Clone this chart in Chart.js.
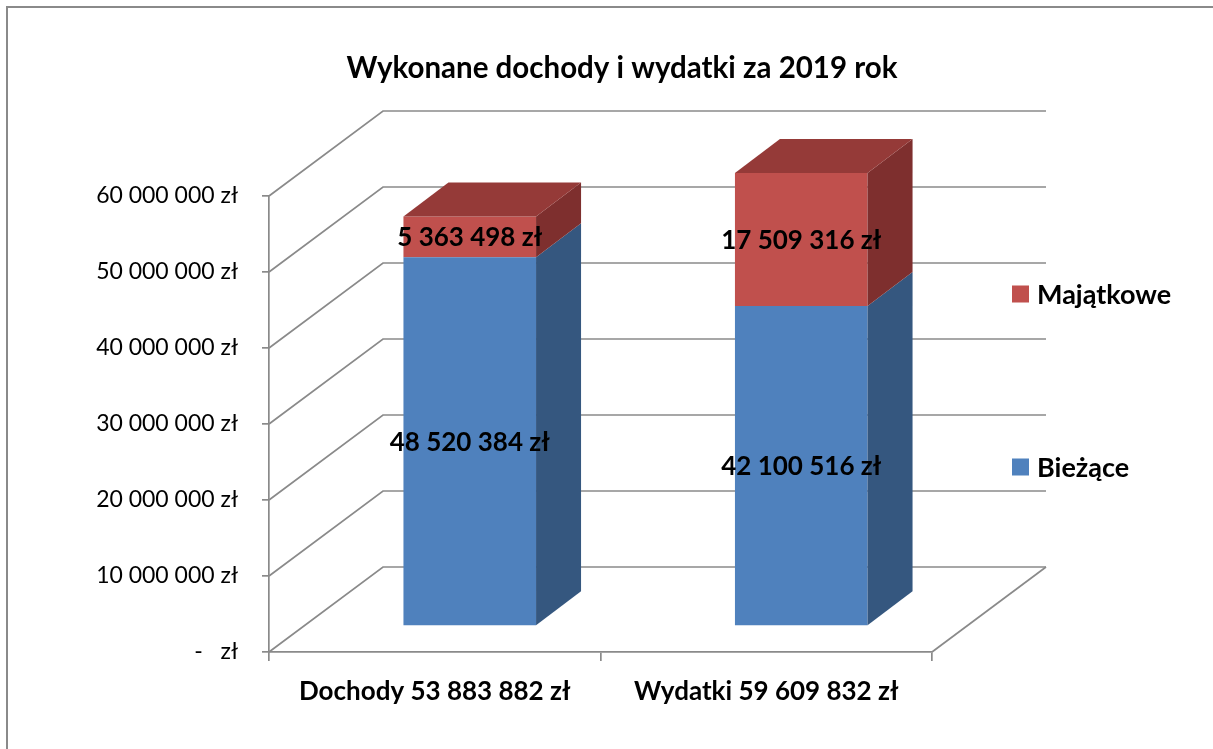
<!DOCTYPE html>
<html>
<head>
<meta charset="utf-8">
<script src="https://cdn.jsdelivr.net/npm/chart.js@4.4.0/dist/chart.umd.min.js"></script>
<style>
  html, body { margin: 0; padding: 0; background: #fff; }
</style>
</head>
<body>
<canvas id="chart" width="1213" height="749"></canvas>
<script>
const categories = ['Dochody 53 883 882 zł', 'Wydatki 59 609 832 zł'];
const biezace = [48520384, 42100516];
const majatkowe = [5363498, 17509316];
const yTicks = [0, 10000000, 20000000, 30000000, 40000000, 50000000, 60000000];

const FONT = 'Lato, "Open Sans", sans-serif';
const GRID = '#8a8a8a';
// oblique 3D offsets (front plane -> back wall, front plane -> bar front, bar depth)
const WALL = { dx: 114, dy: -85 };
const BAR_OFF = { dx: 35, dy: -26 };
const DEPTH = { dx: 45, dy: -34 };

function zl(v) {
    if (v === 0) return '-\u00a0\u00a0\u00a0zł';
    return String(v).replace(/\B(?=(\d{3})+(?!\d))/g, ' ') + ' zł';
}

const threeD = {
    id: 'threeD',
    beforeDraw(chart) {
        const ctx = chart.ctx;
        ctx.save();
        ctx.fillStyle = '#fff';
        ctx.fillRect(0, 0, chart.width, chart.height);
        // outer frame (cut by the picture at right and bottom)
        ctx.strokeStyle = '#8a8a8a';
        ctx.lineWidth = 2;
        ctx.beginPath();
        ctx.moveTo(7, chart.height + 5);
        ctx.lineTo(7, 7);
        ctx.lineTo(chart.width + 5, 7);
        ctx.stroke();
        // title
        ctx.fillStyle = '#000';
        ctx.font = 'bold 29.5px ' + FONT;
        ctx.textAlign = 'center';
        ctx.textBaseline = 'middle';
        ctx.fillText('Wykonane dochody i wydatki za 2019 rok', 622, 68);
        // legend, top entry is the last series like in Excel
        const ds = chart.data.datasets;
        const legendY = [294, 467];
        ctx.font = 'bold 27px ' + FONT;
        ctx.textAlign = 'left';
        [ds[1], ds[0]].forEach((d, i) => {
            ctx.fillStyle = d.backgroundColor;
            ctx.fillRect(1012, legendY[i] - 8.5, 17, 17);
            ctx.fillStyle = '#000';
            ctx.fillText(d.label, 1037, legendY[i] + 1);
        });
        ctx.restore();
    },
    beforeDatasetsDraw(chart) {
        const { ctx, chartArea: a, scales: { y } } = chart;
        ctx.save();
        ctx.strokeStyle = GRID;
        ctx.lineWidth = 1.7;
        y.ticks.forEach(t => {
            const py = y.getPixelForValue(t.value);
            ctx.beginPath();
            ctx.moveTo(a.left, py);
            ctx.lineTo(a.left + WALL.dx, py + WALL.dy);
            ctx.lineTo(a.right + WALL.dx, py + WALL.dy);
            ctx.stroke();
        });
        // right edge of the floor
        ctx.beginPath();
        ctx.moveTo(a.right, a.bottom);
        ctx.lineTo(a.right + WALL.dx, a.bottom + WALL.dy);
        ctx.stroke();
        ctx.restore();

        // bars are drawn by the library, pushed back into the box
        ctx.save();
        ctx.translate(BAR_OFF.dx, BAR_OFF.dy);
    },
    afterDatasetsDraw(chart) {
        const ctx = chart.ctx;
        const metas = chart.getSortedVisibleDatasetMetas();
        metas.forEach((meta, di) => {
            const d = chart.data.datasets[meta.index];
            meta.data.forEach(bar => {
                const { x, y, base, width } = bar.getProps(['x', 'y', 'base', 'width'], true);
                const l = x - width / 2, r = x + width / 2;
                // side
                ctx.fillStyle = d.sideColor;
                ctx.beginPath();
                ctx.moveTo(r, base);
                ctx.lineTo(r + DEPTH.dx, base + DEPTH.dy);
                ctx.lineTo(r + DEPTH.dx, y + DEPTH.dy);
                ctx.lineTo(r, y);
                ctx.closePath();
                ctx.fill();
                // top only on the highest segment
                if (di === metas.length - 1) {
                    ctx.fillStyle = d.topColor;
                    ctx.beginPath();
                    ctx.moveTo(l, y);
                    ctx.lineTo(r, y);
                    ctx.lineTo(r + DEPTH.dx, y + DEPTH.dy);
                    ctx.lineTo(l + DEPTH.dx, y + DEPTH.dy);
                    ctx.closePath();
                    ctx.fill();
                }
            });
        });
        // value labels in the middle of each front face
        ctx.fillStyle = '#000';
        ctx.font = 'bold 26px ' + FONT;
        ctx.textAlign = 'center';
        ctx.textBaseline = 'middle';
        metas.forEach(meta => {
            const d = chart.data.datasets[meta.index];
            meta.data.forEach((bar, i) => {
                const { x, y, base } = bar.getProps(['x', 'y', 'base'], true);
                ctx.fillText(zl(d.data[i]), x, (y + base) / 2 + 1);
            });
        });
        ctx.restore();
    }
};

new Chart(document.getElementById('chart'), {
    type: 'bar',
    data: {
        labels: categories,
        datasets: [{
            label: 'Bieżące',
            data: biezace,
            backgroundColor: '#4F81BD',
            sideColor: '#35577F',
            topColor: '#3E6797',
            clip: false
        }, {
            label: 'Majątkowe',
            data: majatkowe,
            backgroundColor: '#C0504D',
            sideColor: '#7E2F2E',
            topColor: '#953A38',
            clip: false
        }]
    },
    options: {
        responsive: false,
        animation: false,
        devicePixelRatio: 1,
        layout: {
            padding: { left: 0, right: 281, top: 196, bottom: 37 }
        },
        categoryPercentage: 1,
        barPercentage: 0.4,
        plugins: {
            legend: { display: false },
            title: { display: false },
            tooltip: { enabled: false }
        },
        scales: {
            x: {
                stacked: true,
                afterFit(scale) { scale.height = 60; },
                grid: {
                    drawOnChartArea: false,
                    drawTicks: true,
                    tickLength: 9,
                    color: GRID,
                    lineWidth: 1.7
                },
                border: { display: true, color: GRID, width: 1.7 },
                ticks: {
                    color: '#000',
                    padding: 15,
                    maxRotation: 0,
                    font: { family: FONT, size: 26, weight: 'bold' }
                }
            },
            y: {
                stacked: true,
                min: yTicks[0],
                max: yTicks[yTicks.length - 1],
                afterFit(scale) { scale.width = 269; },
                afterBuildTicks(scale) {
                    scale.ticks = yTicks.map(v => ({ value: v }));
                },
                grid: {
                    drawOnChartArea: false,
                    drawTicks: true,
                    tickLength: 7,
                    color: GRID,
                    lineWidth: 1.7
                },
                border: { display: true, color: GRID, width: 1.7 },
                ticks: {
                    color: '#000',
                    padding: 24,
                    font: { family: FONT, size: 23 },
                    callback: v => zl(v)
                }
            }
        }
    },
    plugins: [threeD]
});
</script>
</body>
</html>
